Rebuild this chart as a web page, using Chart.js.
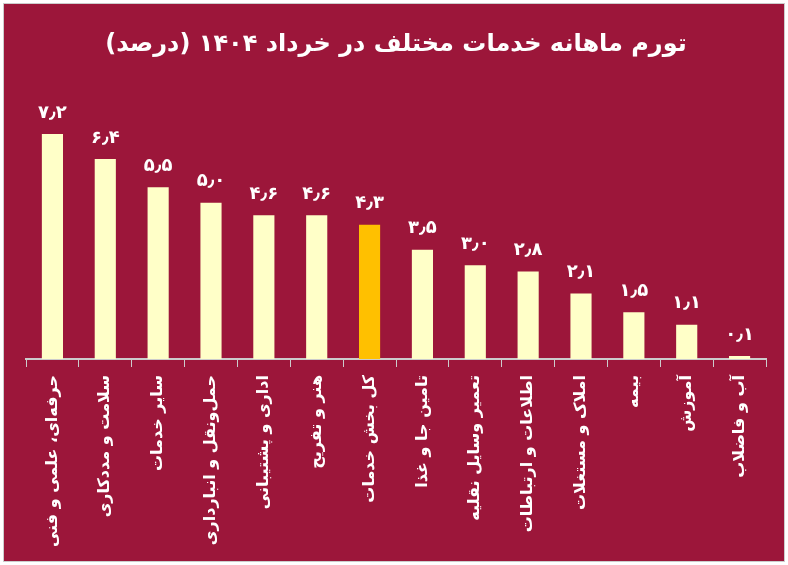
<!DOCTYPE html>
<html lang="fa">
<head>
<meta charset="UTF-8">
<title>تورم ماهانه خدمات</title>
<script src="https://cdn.jsdelivr.net/npm/chart.js"></script>
<style>
  html, body { margin: 0; padding: 0; background: #fff; }
  #wrap { position: absolute; left: 3px; top: 3px; width: 780px; height: 557px; background: #9c163a; border: 1px solid #ccc; }
</style>
</head>
<body>
<div id="wrap"><canvas id="c"></canvas></div>
<script>
var categories = ['حرفه‌ای، علمی و فنی', 'سلامت و مددکاری', 'سایر خدمات', 'حمل‌ونقل و انبارداری', 'اداری و پشتیبانی', 'هنر و تفریح', 'کل بخش خدمات', 'تامین جا و غذا', 'تعمیر وسایل نقلیه', 'اطلاعات و ارتباطات', 'املاک و مستغلات', 'بیمه', 'آموزش', 'آب و فاضلاب'];
var values = [7.2, 6.4, 5.5, 5.0, 4.6, 4.6, 4.3, 3.5, 3.0, 2.8, 2.1, 1.5, 1.1, 0.1];
var highlight = 'کل بخش خدمات';

function fa(v) {
  return v.toFixed(1).replace('.', '٫').replace(/[0-9]/g, function (d) { return '۰۱۲۳۴۵۶۷۸۹'[d]; });
}

var labelPlugin = {
  id: 'vals',
  afterDatasetsDraw: function (chart) {
    var ctx = chart.ctx;
    var meta = chart.getDatasetMeta(0);
    ctx.save();
    ctx.fillStyle = '#ffffff';
    ctx.font = 'bold 18px "DejaVu Sans"';
    ctx.textAlign = 'center';
    ctx.textBaseline = 'bottom';
    meta.data.forEach(function (bar, i) {
      ctx.fillText(fa(values[i]), bar.x, bar.y - 12);
    });
    ctx.restore();
  }
};

new Chart(document.getElementById('c'), {
  type: 'bar',
  data: {
    labels: categories,
    datasets: [{
      data: values,
      backgroundColor: categories.map(function (c) { return c === highlight ? '#ffc000' : '#ffffc8'; }),
      barPercentage: 0.4,
      categoryPercentage: 1
    }]
  },
  options: {
    responsive: true,
    maintainAspectRatio: false,
    animation: false,
    layout: { padding: { top: 10, left: 22, right: 18, bottom: 0 } },
    plugins: {
      legend: { display: false },
      tooltip: { enabled: false },
      title: {
        display: true,
        text: 'تورم ماهانه خدمات مختلف در خرداد ۱۴۰۴ (درصد)',
        color: '#ffffff',
        font: { family: 'DejaVu Sans', size: 24, weight: 'bold' },
        padding: { top: 16, bottom: 30 }
      }
    },
    scales: {
      x: {
        afterFit: function (s) { s.height = 202; },
        grid: { display: true, drawOnChartArea: false, color: '#cccccc', tickLength: 8, offset: true },
        border: { color: '#cccccc', width: 2 },
        ticks: { color: '#ffffff', minRotation: 90, maxRotation: 90, font: { family: 'DejaVu Sans', size: 16, weight: 'bold' }, padding: 8 }
      },
      y: {
        display: false,
        min: 0,
        max: 8.65
      }
    }
  },
  plugins: [labelPlugin]
});
</script>
</body>
</html>
